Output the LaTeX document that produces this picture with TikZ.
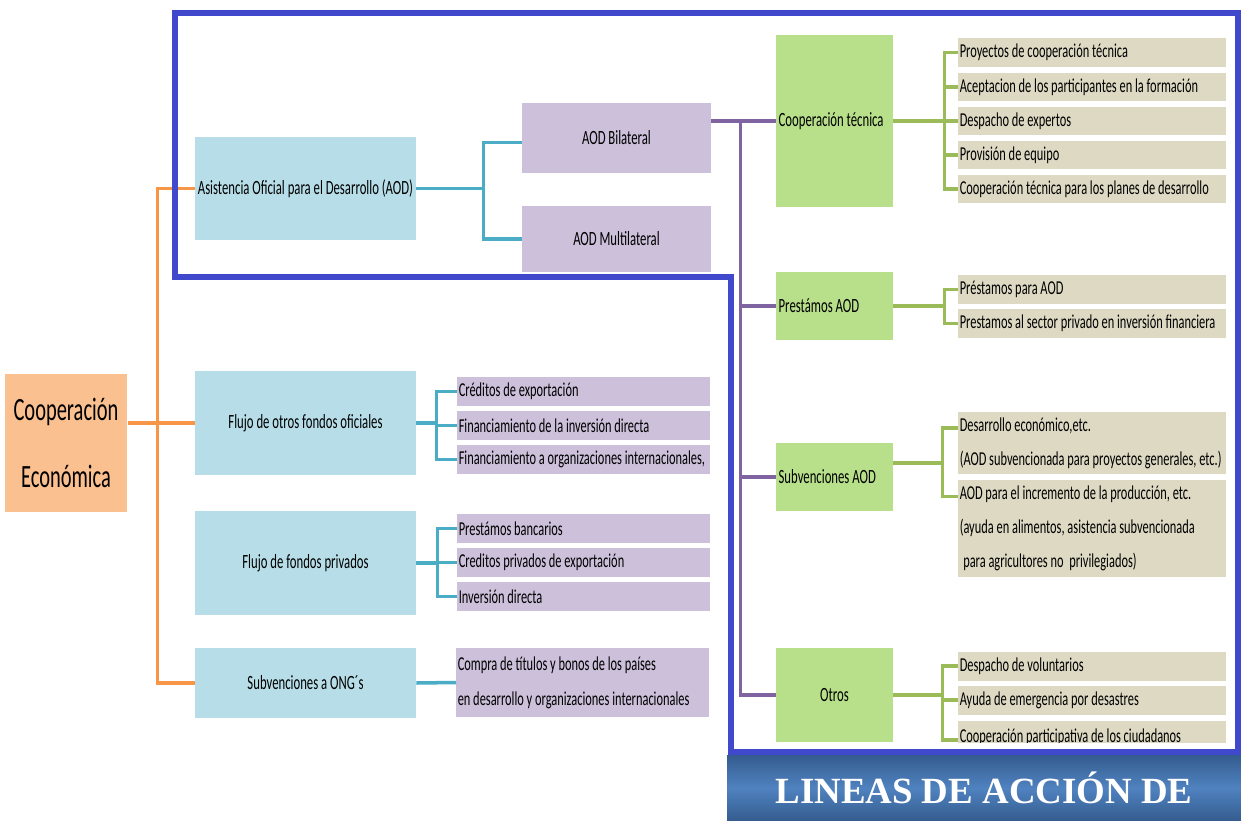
\documentclass[tikz,border=0pt]{standalone}
\usepackage{fontspec}
\setmainfont{Carlito}[FakeStretch=0.63]
\newfontfamily\bannerfont{Liberation Serif}
\usetikzlibrary{positioning,calc}
\definecolor{naranja}{RGB}{250,192,144}
\definecolor{naranjal}{RGB}{247,150,70}
\definecolor{celeste}{RGB}{183,222,232}
\definecolor{turquesa}{RGB}{75,172,198}
\definecolor{lila}{RGB}{204,192,218}
\definecolor{morado}{RGB}{128,100,162}
\definecolor{verdec}{RGB}{184,224,138}
\definecolor{verdel}{RGB}{155,187,89}
\definecolor{caqui}{RGB}{221,217,195}
\definecolor{marco}{RGB}{64,72,204}
\definecolor{bandaA}{RGB}{52,92,142}
\definecolor{bandaB}{RGB}{80,130,192}

\begin{document}
\begin{tikzpicture}[
		x=0.02cm,y=-0.02cm,
		raiz/.style={
			fill=naranja,
			minimum width=2.46cm,
			minimum height=2.76cm,
			align=center,
			font=\fontsize{18.5}{38.5}\selectfont
		},
		caja/.style={
			fill=celeste,
			inner xsep=1pt,
			minimum width=4.42cm,
			align=center,
			font=\fontsize{11.5}{13}\selectfont
		},
		bilat/.style={
			fill=lila,
			minimum width=3.78cm,
			align=center,
			font=\fontsize{11.5}{13}\selectfont
		},
		itemlila/.style={
			fill=lila,
			anchor=west,
			inner xsep=0.8pt,
			text width=5.06cm-1.6pt,
			minimum height=0.58cm,
			align=flush left,
			font=\fontsize{11.2}{19.8}\selectfont
		},
		verdebox/.style={
			fill=verdec,
			inner xsep=1.5pt,
			text width=2.34cm-3pt,
			align=flush left,
			font=\fontsize{11.5}{13}\selectfont
		},
		itemcaqui/.style={
			fill=caqui,
			anchor=west,
			inner xsep=0.8pt,
			text width=5.36cm-1.6pt,
			minimum height=0.58cm,
			align=flush left,
			font=\fontsize{11.2}{19.4}\selectfont
		},
		linea/.style={
			line width=2pt
		},
		titulo/.style={
			top color=bandaA,
			bottom color=bandaA,
			middle color=bandaB,
			minimum width=10.28cm,
			minimum height=1.32cm,
			text=white,
			font=\bannerfont\bfseries\fontsize{21}{24}\selectfont
		}
		]
		\useasboundingbox (0,0) rectangle (1241,821);
		\node[raiz] (coop) at (66,443) {Cooperación\\Económica};
		\node[caja,minimum height=2.06cm] (aod) at (305.5,188.5) {Asistencia Oficial para el Desarrollo (AOD)};
		\node[caja,minimum height=2.08cm] (fof) at (305.5,423) {Flujo de otros fondos oficiales};
		\node[caja,minimum height=2.08cm] (priv) at (305.5,563) {Flujo de fondos privados};
		\node[caja,minimum height=1.4cm] (ong) at (305.5,683) {Subvenciones a ONG´s};
		\node[bilat,minimum height=1.4cm] (bil) at (616.5,138) {AOD Bilateral};
		\node[bilat,minimum height=1.32cm] (mul) at (616.5,239) {AOD Multilateral};

		\node[itemlila] (c1) at (457,391.5) {Créditos de exportación};
		\node[itemlila] (c2) at (457,425.5) {Financiamiento de la inversión directa};
		\node[itemlila] (c3) at (457,459.5) {Financiamiento a organizaciones internacionales,};
		\node[itemlila] (p1) at (457,528.5) {Prestámos bancarios};
		\node[itemlila] (p2) at (457,562.5) {Creditos privados de exportación};
		\node[itemlila] (p3) at (457,596.5) {Inversión directa};
		\node[itemlila,minimum height=1.38cm] (bonos) at (456,682.5) {Compra de títulos y bonos de los países\\en desarrollo y organizaciones internacionales};

		\node[verdebox,minimum height=3.44cm] (tec) at (834.5,121) {Cooperación técnica};
		\node[verdebox,minimum height=1.36cm] (pre) at (834.5,306) {Prestámos AOD};
		\node[verdebox,minimum height=1.36cm] (sub) at (834.5,477) {Subvenciones AOD};
		\node[verdebox,minimum height=1.88cm,align=center] (otr) at (834.5,695) {Otros};

		\node[itemcaqui] (t1) at (958,52.5) {Proyectos de cooperación técnica};
		\node[itemcaqui] (t2) at (958,87) {Aceptacion de los participantes en la formación};
		\node[itemcaqui] (t3) at (958,121) {Despacho de expertos};
		\node[itemcaqui] (t4) at (958,155) {Provisión de equipo};
		\node[itemcaqui] (t5) at (958,189) {Cooperación técnica para los planes de desarrollo};
		\node[itemcaqui] (r1) at (958,289.5) {Préstamos para AOD};
		\node[itemcaqui] (r2) at (958,323.5) {Prestamos al sector privado en inversión financiera};
		\node[itemcaqui,minimum height=1.24cm] (s1) at (958,443) {Desarrollo económico,etc.\\(AOD subvencionada para proyectos generales, etc.)};
		\node[itemcaqui,minimum height=1.94cm] (s2) at (958,528.5) {AOD para el incremento de la producción, etc.\\(ayuda en alimentos, asistencia subvencionada\\\hspace{2pt}para agricultores no\ \ privilegiados)};
		\node[itemcaqui] (o1) at (958,666) {Despacho de voluntarios};
		\node[itemcaqui] (o2) at (958,700) {Ayuda de emergencia por desastres};
		\begin{scope}
		\clip (950,600) rectangle (1236,742);
		\node[itemcaqui,minimum height=0.64cm] (o3) at (958,737) {Cooperación participativa de los ciudadanos};
		\end{scope}

		\draw[linea,naranjal] (coop.east |- fof.west) -- (fof.west);
		\draw[linea,naranjal] (aod.west) -- ++(-37,0) coordinate (ot) |- (ong.west);

		\draw[linea,turquesa] (aod.east) -- ++(67,0) coordinate (at);
		\draw[linea,turquesa] (at) |- ([yshift=-2.5pt]bil.west);
		\draw[linea,turquesa] (at) |- (mul.west);
		\draw[linea,turquesa] (fof.east) -- ++(20,0) coordinate (ft);
		\foreach \i in {c1,c2,c3}
			\draw[linea,turquesa] (ft) |- (\i.west);
		\draw[linea,turquesa] (priv.east) -- ++(21,0) coordinate (pt);
		\foreach \i in {p1,p2,p3}
			\draw[linea,turquesa] (pt) |- (\i.west);
		\draw[linea,turquesa] (ong.east) -- (bonos.west);

		\draw[linea,morado] (bil.east |- tec.west) -- (tec.west);
		\path (bil.east |- tec.west) ++(29,0) coordinate (mt);
		\foreach \i in {pre,sub,otr}
			\draw[linea,morado] (mt) |- (\i.west);

		\draw[linea,verdel] (tec.east) -- ++(51,0) coordinate (gt);
		\foreach \i in {t1,t2,t3,t4,t5}
			\draw[linea,verdel] (gt) |- (\i.west);
		\draw[linea,verdel] (pre.east) -- ++(51,0) coordinate (gr);
		\foreach \i in {r1,r2}
			\draw[linea,verdel] (gr) |- (\i.west);
		\draw[linea,verdel] ([yshift=8pt]sub.east) -- ++(49,0) coordinate (gs);
		\foreach \i in {s1,s2}
			\draw[linea,verdel] (gs) |- ([yshift=-9.5pt]\i.north west);
		\draw[linea,verdel] (otr.east) -- ++(49,0) coordinate (go);
		\foreach \i in {o1,o2}
			\draw[linea,verdel] (go) |- (\i.west);
		\draw[linea,verdel] (go) -- (go |- 0,740) -- ++(16,0);

		\draw[line width=3.4pt,marco] (175,277) -- (175,13) -- (1238,13) -- (1238,752) -- (731,752) -- (731,277) -- cycle;
		\node[titulo] (banda) at (984,788) {LINEAS DE ACCIÓN DE};
		\end{tikzpicture}
\end{document}
